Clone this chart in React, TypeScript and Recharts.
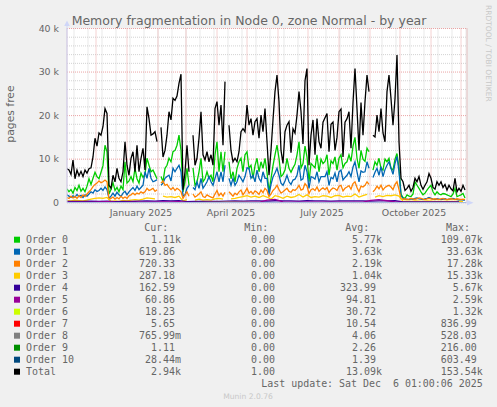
import React from 'react';
import { LineChart, Line, XAxis, YAxis, CartesianGrid } from 'recharts';

// Memory fragmentation, Node 0 zone Normal, yearly view (munin style)
// day 0 = Nov 2 2024, values in thousands of pages

const FONT = '"DejaVu Sans", sans-serif';
const MONO = '"DejaVu Sans Mono", monospace';
const TEXT = '#666666';
const AXIS = '#CFD6F8';

const FINE_DAYS = Array.from({ length: 200 }, (_, i) => i * 2);
const MID_DAYS = Array.from({ length: 100 }, (_, i) => i * 4);
const COARSE_DAYS = Array.from({ length: 50 }, (_, i) => i * 8);
const TINY_DAYS = [0, 40, 80, 120, 160, 200, 240, 280, 320, 360, 400];

const MONTH_START_DAYS = [29, 60, 91, 119, 150, 180, 211, 241, 272, 303, 333, 364, 394];
const FORTNIGHT_DAYS = [
  7, 21, 35, 49, 63, 77, 91, 105, 119, 133, 147, 161, 175, 189, 203,
  217, 231, 245, 259, 273, 287, 301, 315, 329, 343, 357, 371, 385, 399,
];
const X_LABEL_DAYS = [74, 164, 255, 347];
const X_LABELS = ['January 2025', 'April 2025', 'July 2025', 'October 2025'];
const Y_TICKS = [0, 10, 20, 30, 40];
const Y_MINOR_TICKS = [2, 4, 6, 8, 12, 14, 16, 18, 22, 24, 26, 28, 32, 34, 36, 38];

const TOTAL = [
  7.8, 7.5, 6.5, 9.8, 5.5, 7.5, 6.2, 7.2, 6.0, 7.5,
  6.8, 7.8, 8.0, 10.5, 14.8, 13.0, 16.0, 15.5, 17.5, 21.6,
  20.5, 4.0, 3.3, 6.3, 4.8, 7.9, 5.6, 4.8, 7.1, 14.0,
  8.6, 6.3, 10.2, 11.7, 7.1, 13.2, 7.1, 10.2, 12.5, 7.5,
  22.0, 19.3, 15.5, 15.8, 16.3, 14.0, null, 17.3, 10.5, 12.0,
  15.5, 20.9, 19.0, 24.0, 23.5, 24.5, 27.4, 29.5, 3.0, 7.1,
  13.2, 7.1, null, 15.5, 8.6, 10.2, 14.8, 20.9, 11.0, 9.8,
  11.7, 9.4, 11.0, 8.6, 21.6, 23.2, 17.8, 22.4, 13.2, 27.8,
  null, 17.8, 12.0, 9.4, 10.2, 9.4, 11.7, 16.3, 17.0, 16.3,
  22.4, 17.8, 19.3, 15.5, 18.6, 19.3, 14.8, 20.1, 16.3, 21.6,
  14.0, 6.3, 12.0, 19.0, 25.5, 29.3, 23.2, 12.0, 9.0, 16.3,
  17.8, 18.6, 11.5, 17.0, 16.0, 20.1, 25.5, 21.0, 13.5, 28.0,
  30.8, 8.6, 15.5, 19.0, 11.0, 19.3, 14.0, 12.5, 18.5, 19.5,
  20.5, 11.7, 18.0, 18.5, 12.0, 15.0, 20.9, 21.5, 10.5, 18.5,
  19.3, 20.9, 12.5, 23.0, 30.8, 21.6, 12.0, 23.0, 15.5, 23.2,
  29.3, 25.5, null, 15.5, 15.1, 20.1, 16.3, 21.6, 16.0, 14.0,
  25.5, 29.3, 23.9, 17.8, 23.9, 33.9, 14.0, 5.6, 4.8, 2.8,
  3.3, 4.0, 2.6, 3.5, 5.6, 4.8, 6.0, 4.0, 3.1, 4.0,
  4.8, 6.7, 5.6, 3.5, 3.1, 4.8, 4.0, 4.8, 3.5, 4.2,
  2.9, 4.0, 3.2, 2.7, 5.6, 2.5, 3.3, 2.6, 4.0, 2.9,
];

const ORDER0 = [
  3.2, 2.5, 3.0, 2.2, 3.5, 2.8, 4.0, 2.6, 3.3, 2.5,
  3.8, 5.5, 4.2, 5.6, 7.0, 6.0, 5.5, 7.0, 8.5, 13.2,
  11.7, 2.0, 3.0, 4.6, 2.8, 3.5, 2.5, 3.8, 3.0, 9.4,
  4.5, 5.0, 6.0, 4.8, 7.9, 5.5, 4.5, 6.8, 5.8, 6.5,
  10.2, 8.6, 7.1, 7.5, 6.5, 5.5, null, 6.0, 4.8, 7.9,
  8.6, 10.2, 9.4, 11.7, 12.0, 13.2, 15.5, 12.0, 2.5, 4.8,
  7.9, 4.0, null, 8.0, 4.0, 4.8, 7.1, 10.2, 4.8, 5.5,
  7.1, 5.6, 6.3, 4.8, 11.0, 14.0, 7.1, 11.7, 7.1, 11.7,
  null, 9.4, 5.5, 7.1, 4.8, 7.9, 9.4, 10.2, 7.1, 11.0,
  11.7, 7.9, 8.6, 5.6, 8.5, 10.2, 7.1, 9.4, 7.9, 10.2,
  7.0, 2.5, 5.5, 8.5, 11.0, 13.2, 10.2, 6.0, 6.5, 7.5,
  10.2, 7.9, 7.0, 8.0, 8.8, 11.0, 14.0, 8.0, 9.0, 13.0,
  10.5, 4.8, 9.0, 8.5, 8.0, 11.0, 7.1, 10.0, 9.0, 9.5,
  11.0, 6.3, 9.6, 9.0, 10.5, 7.5, 10.2, 11.0, 8.0, 9.0,
  9.4, 11.0, 9.5, 13.0, 15.0, 10.2, 7.9, 12.0, 10.0, 9.5,
  12.5, 11.7, null, 7.5, 9.4, 8.6, 10.2, 7.9, 7.5, 10.0,
  9.4, 10.2, 7.9, 7.5, 10.0, 11.3, 7.9, 2.0, 1.2, 1.0,
  1.8, 1.5, 1.4, 2.0, 4.8, 4.0, 3.3, 2.5, 1.8, 2.2,
  2.9, 3.5, 4.0, 2.5, 1.8, 2.5, 2.0, 1.8, 2.1, 2.0,
  1.8, 1.6, 1.4, 2.0, 3.3, 1.4, 1.6, 1.8, 2.1, 1.1,
];

const ORDER1 = [
  1.8, 1.5, 1.2, 1.6, 1.3, 1.9, 1.4, 1.7, 1.2, 1.8,
  1.5, 2.0, 2.5, 2.2, 3.0, 2.6, 2.8, 3.3, 2.8, 3.6,
  3.0, 1.0, 1.5, 2.2, 1.5, 2.4, 1.8, 1.4, 2.2, 2.6,
  1.8, 2.5, 3.0, 3.5, 2.8, 3.8, 3.0, 3.5, 4.0, 7.1,
  5.6, 7.9, 5.6, 4.8, 5.0, 5.3, null, 4.0, 4.5, 5.6,
  6.0, 6.3, 5.0, 7.9, 7.1, 7.9, 8.6, 7.1, 1.5, 1.8,
  3.3, 4.0, null, 3.5, 3.0, 4.8, 3.3, 5.6, 3.3, 4.0,
  4.8, 6.0, 4.8, 4.0, 5.6, 7.1, 4.8, 7.1, 4.8, 8.6,
  null, 5.6, 4.0, 5.6, 4.0, 4.8, 6.3, 5.6, 4.8, 6.0,
  8.0, 7.9, 5.6, 6.3, 4.8, 7.5, 5.6, 4.8, 7.1, 5.6,
  5.6, 1.8, 4.2, 5.9, 6.8, 7.9, 6.3, 4.5, 4.0, 5.0,
  6.3, 4.8, 4.2, 5.2, 5.4, 6.3, 8.6, 5.2, 5.5, 8.6,
  7.1, 3.3, 6.0, 5.8, 5.4, 7.1, 4.8, 6.0, 6.0, 6.0,
  7.1, 4.0, 5.8, 5.5, 6.8, 4.8, 7.1, 7.5, 5.2, 5.8,
  6.3, 7.1, 6.0, 8.2, 9.4, 7.1, 4.8, 7.3, 7.0, 7.1,
  9.4, 7.9, null, 5.8, 7.0, 7.9, 6.3, 8.3, 6.0, 7.6,
  8.6, 9.4, 7.9, 6.5, 9.0, 10.6, 7.1, 1.6, 1.0, 0.8,
  0.8, 0.7, 0.9, 0.8, 1.0, 1.1, 0.9, 0.8, 0.7, 0.9,
  1.0, 1.2, 1.0, 0.8, 0.7, 0.9, 0.8, 0.7, 0.8, 0.9,
  0.7, 0.8, 0.9, 1.0, 0.8, 0.7, 0.6, 0.7, 0.6, 0.62,
];

const ORDER2 = [
  1.2, 1.0, 1.5, 1.1, 1.4, 1.0, 1.6, 1.2, 1.8, 1.4,
  2.0, 2.5, 3.0, 3.7, 4.2, 4.5, 5.0, 4.6, 4.8, 5.2,
  4.8, 0.8, 1.0, 1.3, 0.8, 1.2, 0.9, 1.5, 1.0, 1.3,
  1.0, 1.6, 1.8, 2.2, 1.8, 2.2, 2.0, 2.5, 2.2, 2.5,
  3.3, 2.8, 3.0, 3.3, 2.6, 3.0, null, 4.5, 5.0, 4.0,
  4.2, 3.5, 3.0, 3.5, 2.8, 3.3, 3.0, 2.5, 1.0, 1.8,
  2.5, 1.5, null, 2.0, 1.3, 1.6, 2.0, 2.5, 1.4, 1.2,
  1.8, 1.5, 1.3, 1.1, 2.0, 2.8, 1.6, 2.2, 1.5, 2.4,
  null, 2.5, 2.0, 1.5, 2.2, 1.8, 2.5, 2.9, 1.8, 2.5,
  3.3, 2.2, 2.6, 2.0, 2.7, 2.4, 1.9, 2.9, 2.3, 3.3,
  2.8, 1.4, 2.0, 2.8, 3.3, 4.0, 3.0, 2.2, 2.5, 2.9,
  3.3, 2.6, 2.4, 3.0, 2.8, 3.3, 4.0, 2.9, 3.1, 4.4,
  3.8, 2.1, 3.0, 3.2, 2.8, 3.6, 2.6, 3.1, 3.4, 3.0,
  3.5, 2.3, 3.0, 3.4, 3.2, 2.8, 3.8, 4.0, 2.7, 3.3,
  3.6, 3.9, 3.1, 4.4, 4.8, 3.5, 2.5, 3.8, 3.6, 4.0,
  4.8, 4.2, null, 2.5, 3.0, 3.8, 3.2, 4.0, 2.9, 3.5,
  3.8, 4.0, 3.6, 3.0, 4.2, 4.8, 3.0, 0.9, 0.8, 0.9,
  0.7, 0.8, 1.0, 0.9, 0.8, 0.9, 1.1, 1.0, 0.8, 0.7,
  0.9, 1.0, 0.9, 0.8, 0.9, 0.8, 0.7, 0.9, 1.0, 0.8,
  0.7, 0.8, 0.9, 0.8, 0.7, 0.9, 0.8, 0.7, 0.8, 0.72,
];

const ORDER3 = [
  0.5, 0.4, 0.6, 0.5, 0.4, 0.6, 0.8, 1.0, 1.1, 1.0,
  1.2, 0.3, 0.4, 0.3, 0.5, 0.4, 0.6, 0.7, 0.6, 0.8,
  1.1, 1.0, 0.9, null, 1.5, 1.3, 1.4, 1.2, 1.5, 0.4,
  0.7, null, 0.6, 0.8, 0.6, 0.7, 0.6, 0.9, 1.0, 0.8,
  null, 0.9, 1.0, 1.2, 1.4, 1.6, 1.3, 1.5, 1.2, 1.6,
  1.3, 0.8, 1.6, 1.4, 1.0, 1.5, 1.2, 1.4, 1.9, 1.3,
  1.8, 1.2, 1.4, 1.3, 1.6, 1.5, 1.2, 1.6, 1.7, 1.3,
  1.5, 1.4, 2.0, 1.3, 1.6, 1.9, null, 1.3, 1.6, 1.4,
  1.7, 1.6, 1.8, 1.5, 0.3, 0.35, 0.3, 0.4, 0.35, 0.3,
  0.4, 0.35, 0.3, 0.32, 0.3, 0.35, 0.3, 0.32, 0.3, 0.29,
];

const ORDER4 = [
  0.30, 0.28, 0.32, 0.35, 0.30, 0.33, 0.22, 0.30, 0.28, 0.35,
  0.40, 0.38, 0.45, 0.42, 0.48, 0.25, 0.30, 0.28, 0.32, 0.30,
  0.35, 0.40, 0.38, 0.42, 0.40, 0.38, 0.45, 0.40, 0.42, 0.38,
  0.45, 0.40, 0.42, 0.38, 0.40, 0.44, 0.42, 0.40, 0.38, 0.42,
  0.40, 0.45, 0.18, 0.17, 0.16, 0.17, 0.16, 0.17, 0.16, 0.16,
];

const ORDER5 = [
  0.15, 0.12, 0.10, 0.12, 0.20, 0.25, 0.10, 0.08, 0.10, 0.12,
  0.15, 0.12, 0.18, 0.20, 0.22, 0.06, 0.08, 0.07, 0.10, 0.09,
  0.10, 0.12, 0.10, 0.11, 0.10, 0.60, 0.75, 0.20, 0.12, 0.10,
  0.12, 0.10, 0.11, 0.10, 0.12, 0.10, 0.11, 0.12, 0.55, 0.70,
  0.45, 0.20, 0.07, 0.06, 0.06, 0.07, 0.06, 0.06, 0.06, 0.06,
];

const ORDER6 = [0.03, 0.04, 0.02, 0.03, 0.05, 0.03, 0.04, 0.03, 0.04, 0.02, 0.02];
const ORDER7 = [0.01, 0.01, 0.02, 0.01, 0.01, 0.01, 0.02, 0.01, 0.01, 0.01, 0.006];
const ORDER8 = [0.004, 0.005, 0.003, 0.004, 0.005, 0.004, 0.003, 0.004, 0.005, 0.002, 0.001];
const ORDER9 = [0.002, 0.003, 0.002, 0.002, 0.003, 0.002, 0.002, 0.003, 0.002, 0.001, 0.001];
const ORDER10 = [0.001, 0.002, 0.001, 0.001, 0.002, 0.001, 0.002, 0.001, 0.001, 0.001, 0.00003];

const SERIES_NAMES = [
  'Order 0', 'Order 1', 'Order 2', 'Order 3', 'Order 4', 'Order 5',
  'Order 6', 'Order 7', 'Order 8', 'Order 9', 'Order 10', 'Total',
];
const SERIES_COLORS = [
  '#00CC00', '#0066B3', '#FF8000', '#FFCC00', '#330099', '#990099',
  '#CCFF00', '#FF0000', '#808080', '#008F00', '#00487D', '#000000',
];
const SERIES_DAYS = [
  FINE_DAYS, FINE_DAYS, FINE_DAYS, MID_DAYS, COARSE_DAYS, COARSE_DAYS,
  TINY_DAYS, TINY_DAYS, TINY_DAYS, TINY_DAYS, TINY_DAYS, FINE_DAYS,
];
const SERIES_VALUES = [
  ORDER0, ORDER1, ORDER2, ORDER3, ORDER4, ORDER5,
  ORDER6, ORDER7, ORDER8, ORDER9, ORDER10, TOTAL,
];

const CUR = ['1.11k', '619.86', '720.33', '287.18', '162.59', '60.86', '18.23', '5.65', '765.99m', '1.11', '28.44m', '2.94k'];
const MIN = ['0.00', '0.00', '0.00', '0.00', '0.00', '0.00', '0.00', '0.00', '0.00', '0.00', '0.00', '1.00'];
const AVG = ['5.77k', '3.63k', '2.19k', '1.04k', '323.99', '94.81', '30.72', '10.54', '4.06', '2.26', '1.39', '13.09k'];
const MAX = ['109.07k', '33.63k', '17.28k', '15.33k', '5.67k', '2.59k', '1.32k', '836.99', '528.03', '216.00', '603.49', '153.54k'];

const toRows = (days: number[], values: (number | null)[]) =>
  days.map((day, i) => ({ day, v: values[i] }));

// axis arrows, placed from the axis viewBox
const XArrow = (props: any) => {
  const { x, y, width } = props.viewBox;
  const ax = x + width;
  return (
    <g>
      <line x1={ax - 1} x2={ax + 1} y1={y} y2={y} stroke={AXIS} />
      <polygon points={`${ax},${y - 2.8} ${ax + 6.5},${y} ${ax},${y + 2.8}`} fill={AXIS} />
    </g>
  );
};

const YArrow = (props: any) => {
  const { x, y, width } = props.viewBox;
  const ax = x + width;
  return (
    <g>
      <line x1={ax} x2={ax} y1={y + 1} y2={y - 2.5} stroke={AXIS} />
      <polygon points={`${ax - 2.8},${y - 2.5} ${ax},${y - 8} ${ax + 2.8},${y - 2.5}`} fill={AXIS} />
    </g>
  );
};

const COL_ENDS = [181, 281, 382, 482.7];
const HEADERS = ['Cur:', 'Min:', 'Avg:', 'Max:'];

const cellX = (colEnd: number, s: string) => (/[a-z]$/.test(s) ? colEnd : colEnd - 6);

export default function App() {
  const tickStyle = { fill: TEXT, fontSize: 9.4, fontFamily: FONT };
  return (
    <div style={{ position: 'absolute', left: 0, top: 0, width: 497, height: 407, background: '#F0F0F0' }}>
      <LineChart width={497} height={230} margin={{ top: 28.5, right: 30, bottom: 7.3, left: 7 }}>
        <XAxis xAxisId="minor" type="number" dataKey="day" domain={[0, 400]} allowDataOverflow ticks={FORTNIGHT_DAYS} interval={0} hide />
        <XAxis xAxisId="major" type="number" dataKey="day" domain={[0, 400]} allowDataOverflow ticks={MONTH_START_DAYS} interval={0} hide />
        <YAxis yAxisId="minor" type="number" domain={[0, 40]} allowDataOverflow ticks={Y_MINOR_TICKS} interval={0} hide />
        <CartesianGrid xAxisId="minor" yAxisId="minor" fill="#FFFFFF" stroke="#D2D2D2" strokeDasharray="1 1" />
        <CartesianGrid xAxisId="major" yAxisId="main" stroke="#EAA4A4" strokeDasharray="1 1" />
        <XAxis
          xAxisId="main"
          type="number"
          dataKey="day"
          domain={[0, 400]}
          allowDataOverflow
          ticks={X_LABEL_DAYS}
          interval={0}
          tickFormatter={(v: number) => X_LABELS[X_LABEL_DAYS.indexOf(v)]}
          tickLine={false}
          tickMargin={0.6}
          axisLine={{ stroke: AXIS }}
          tick={tickStyle}
          height={20}
          label={XArrow}
        />
        <YAxis
          yAxisId="main"
          type="number"
          domain={[0, 40]}
          allowDataOverflow
          ticks={Y_TICKS}
          interval={0}
          tickFormatter={(v: number) => (v === 0 ? '0' : `${v} k`)}
          tickLine={false}
          axisLine={{ stroke: AXIS }}
          tick={tickStyle}
          width={60}
          label={YArrow}
        />
        {SERIES_NAMES.map((name, i) => (
          <Line
            key={name}
            xAxisId="main"
            yAxisId="main"
            data={toRows(SERIES_DAYS[i], SERIES_VALUES[i])}
            dataKey="v"
            name={name}
            type="linear"
            stroke={SERIES_COLORS[i]}
            strokeWidth={1.3}
            dot={false}
            activeDot={false}
            isAnimationActive={false}
          />
        ))}
      </LineChart>

      <svg width={497} height={407} style={{ position: 'absolute', left: 0, top: 0, pointerEvents: 'none' }}>
        <text x={249} y={24.5} textAnchor="middle" fontFamily={FONT} fontSize={12.5} fill={TEXT}>
          Memory fragmentation in Node 0, zone Normal - by year
        </text>
        <text x={14} y={114} textAnchor="middle" fontFamily={FONT} fontSize={10.8} fill={TEXT} transform="rotate(-90 14 114)">
          pages free
        </text>
        <text x={485.5} y={5} fontFamily={FONT} fontSize={7.5} fill="#C8C8C8" transform="rotate(90 485.5 5)">
          RRDTOOL / TOBI OETIKER
        </text>

        {HEADERS.map((h, c) => (
          <text key={h} x={COL_ENDS[c] - 12.7} y={231} textAnchor="end" fontFamily={MONO} fontSize={9.95} fill={TEXT}>
            {h}
          </text>
        ))}
        {SERIES_NAMES.map((name, i) => {
          const base = 243.3 + i * 12;
          const cells = [CUR[i], MIN[i], AVG[i], MAX[i]];
          return (
            <g key={name}>
              <rect x={14} y={base - 6.6} width={6} height={6} fill={SERIES_COLORS[i]} />
              <text x={26} y={base} fontFamily={MONO} fontSize={9.95} fill={TEXT}>{name}</text>
              {cells.map((s, c) => (
                <text key={c} x={cellX(COL_ENDS[c], s)} y={base} textAnchor="end" fontFamily={MONO} fontSize={9.95} fill={TEXT}>
                  {s}
                </text>
              ))}
            </g>
          );
        })}
        <text x={482.7} y={387.3} textAnchor="end" fontFamily={MONO} fontSize={9.95} fill={TEXT} style={{ whiteSpace: 'pre' }}>
          {'Last update: Sat Dec  6 01:00:06 2025'}
        </text>
        <text x={248} y={398.7} textAnchor="middle" fontFamily={FONT} fontSize={7.6} fill="#C8C8C8">
          Munin 2.0.76
        </text>
      </svg>
    </div>
  );
}
